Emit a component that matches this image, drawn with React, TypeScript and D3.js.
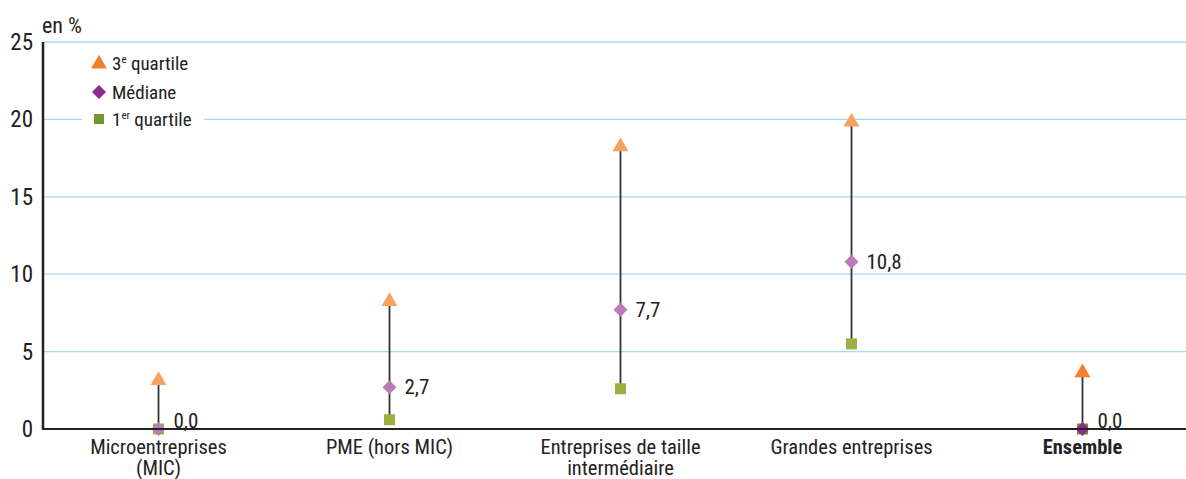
import React from "react";
import * as d3 from "d3";

const categories: string[][] = [
  ["Microentreprises", "(MIC)"],
  ["PME (hors MIC)"],
  ["Entreprises de taille", "intermédiaire"],
  ["Grandes entreprises"],
  ["Ensemble"],
];
const q3Values = [3.2, 8.3, 18.3, 19.9, 3.7];
const medianValues = [0.0, 2.7, 7.7, 10.8, 0.0];
const q1Values = [0.0, 0.6, 2.6, 5.5, 0.0];
const yTicks = [0, 5, 10, 15, 20, 25];
const highlight = [false, false, false, false, true];

const W = 1186;
const H = 479;
const FONT = "'Liberation Sans Narrow', 'Roboto Condensed', 'Arial Narrow', Roboto, sans-serif";

const light = { tri: "#f7a25e", dia: "#b97cb8", sq: "#9bb041" };
const dark = { tri: "#f47e2a", dia: "#8e2a8f", sq: "#6e982e" };

export default function App() {
  const left = 43;
  const top = 42;
  const bottom = 429;
  const x = d3.scaleBand<number>().domain(d3.range(categories.length)).range([left, left + 231 * 5]).padding(0);
  const y = d3.scaleLinear().domain([0, 25]).range([bottom, top]);
  const cx = (i: number) => (x(i) as number) + x.bandwidth() / 2;

  const tri = d3.symbol().type(d3.symbolTriangle).size(110)() as string;
  const dia = (s: number) => `M0,${-s}L${s},0L0,${s}L${-s},0Z`;

  return (
    <svg width={W} height={H} style={{ position: "absolute", left: 0, top: 0, background: "#fff" }} fontFamily={FONT}>
      {yTicks.slice(1).map((t) => (
        <line key={t} x1={left} x2={W} y1={y(t)} y2={y(t)} stroke="#a9d8ee" strokeWidth={1.3} />
      ))}
      {yTicks.map((t) => (
        <text key={"t" + t} x={33} y={y(t) + 8} textAnchor="end" fontSize={23} fill="#222">{t}</text>
      ))}
      <text x={42} y={33} fontSize={22} fill="#222">en %</text>
      {/* legend */}
      <rect x={82} y={48} width={122} height={84} fill="#fff" />
      <g transform="translate(99,64)"><path d={tri} fill={dark.tri} /></g>
      <text x={112} y={70} fontSize={19} fill="#222">3<tspan fontSize={11} dy={-7}>e</tspan><tspan dy={7}> quartile</tspan></text>
      <path transform="translate(99,92)" d={dia(7)} fill={dark.dia} />
      <text x={112} y={99} fontSize={19} fill="#222">Médiane</text>
      <rect x={94} y={114} width={10} height={10} fill={dark.sq} />
      <text x={112} y={126} fontSize={19} fill="#222">1<tspan fontSize={11} dy={-7}>er</tspan><tspan dy={7}> quartile</tspan></text>

      {categories.map((c, i) => {
        const col = highlight[i] ? dark : light;
        const X = cx(i);
        return (
          <g key={i}>
            <line x1={X} x2={X} y1={y(q3Values[i]) + 4} y2={y(q1Values[i])} stroke="#333" strokeWidth={1.8} />
            <rect x={X - 5.5} y={y(q1Values[i]) - 5.5} width={11} height={11} fill={col.sq} />
            <path transform={`translate(${X},${y(medianValues[i])})`} d={dia(7)} fill={col.dia} />
            <path transform={`translate(${X},${y(q3Values[i]) + 1})`} d={tri} fill={col.tri} />
            <text
              x={X + 15}
              y={y(medianValues[i]) + (medianValues[i] === 0 ? -1 : 7)}
              fontSize={21}
              fill="#222"
            >
              {d3.format(".1f")(medianValues[i]).replace(".", ",")}
            </text>
          </g>
        );
      })}
      <line x1={left} x2={W} y1={bottom} y2={bottom} stroke="#222" strokeWidth={2.2} />
      <line x1={left} x2={left} y1={top} y2={bottom + 1} stroke="#222" strokeWidth={2.5} />
      {categories.map((c, i) =>
        c.map((line, j) => (
          <text
            key={i + "-" + j}
            x={cx(i)}
            y={454 + j * 21}
            textAnchor="middle"
            fontSize={20.5}
            fontWeight={highlight[i] ? "bold" : "normal"}
            fill="#222"
          >
            {line}
          </text>
        ))
      )}
    </svg>
  );
}
